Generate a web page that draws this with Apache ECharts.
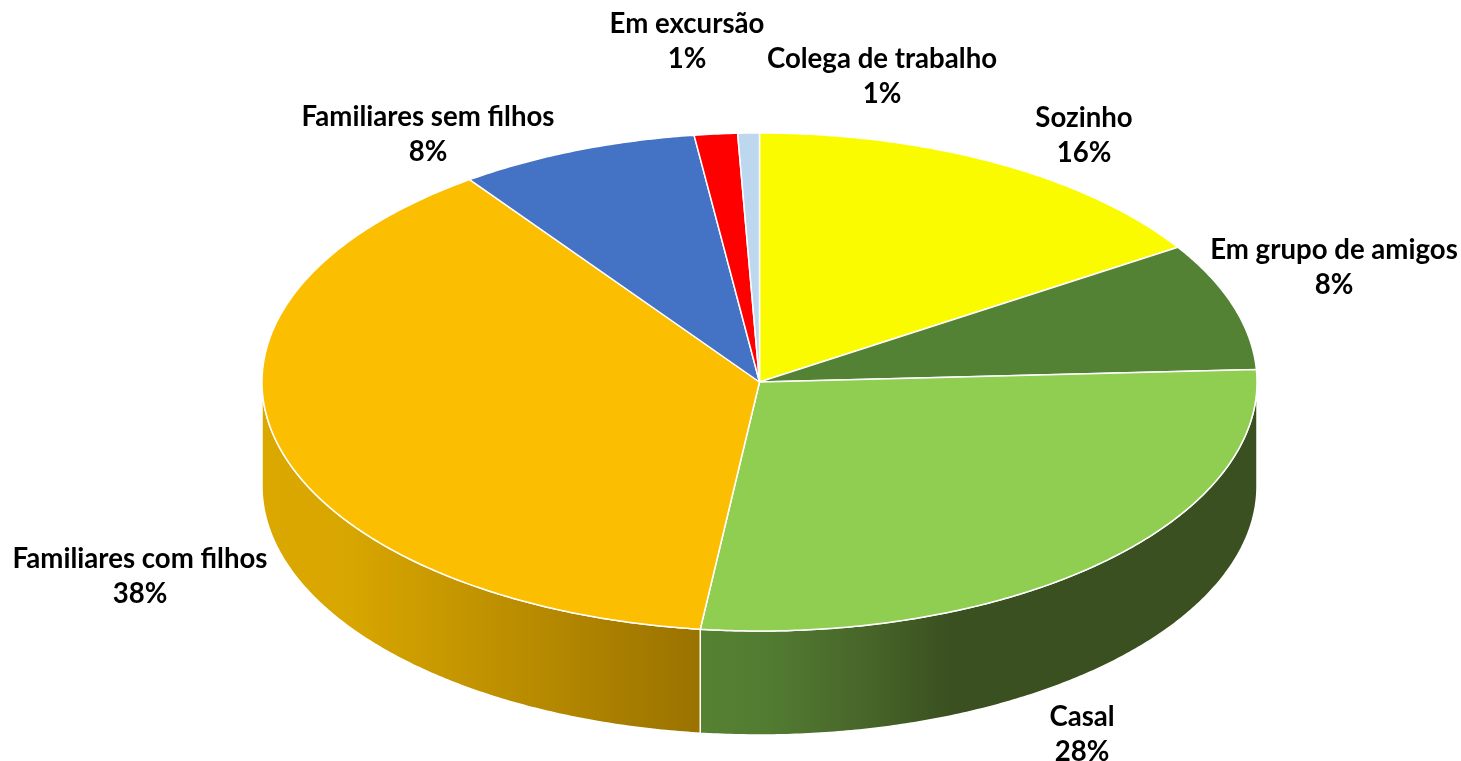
<!DOCTYPE html>
<html>
<head>
<meta charset="utf-8">
<script src="https://cdn.jsdelivr.net/npm/echarts@6/dist/echarts.min.js"></script>
<style>
  html, body { margin: 0; background: #fff; }
  #chart { width: 1461px; height: 761px; }
</style>
</head>
<body>
<div id="chart"></div>
<script>
const categories = ['Sozinho', 'Em grupo de amigos', 'Casal', 'Familiares com filhos', 'Familiares sem filhos', 'Em excursão', 'Colega de trabalho']
const shares = [15.9, 8.3, 27.7, 38.2, 7.8, 1.4, 0.7]

const topColors = ['#FBFB00', '#548235', '#8FCE50', '#FBBE00', '#4472C4', '#FF0000', '#BDD7EE']
const wallStops = {
  2: [[0, '#568232'], [0.12, '#527C32'], [0.3, '#476529'], [0.45, '#3A5020'], [1, '#3A5020']],
  3: [[0, '#DBA800'], [0.2, '#D8A600'], [1, '#9A7200']]
}
const labelCenters = [[1084, 136], [1334, 268], [1082, 735], [140, 577], [428, 135], [687, 42], [882, 77]]

const cx = 759.5
const cy = 382
const rx = 497.5
const ry = 249
const depth = 104
const total = shares.reduce((a, b) => a + b, 0)

function rimPoint(deg, dy) {
  const a = deg * Math.PI / 180
  return [cx + rx * Math.sin(a), cy - ry * Math.cos(a) + dy]
}

function arcPoints(from, to, dy) {
  const pts = []
  const steps = Math.max(2, Math.ceil(Math.abs(to - from) * 2))
  for (let i = 0; i <= steps; i++) {
    pts.push(rimPoint(from + (to - from) * i / steps, dy))
  }
  return pts
}

function renderSlice(params, api) {
  const i = params.dataIndex
  let start = 0
  for (let k = 0; k < i; k++) start += shares[k]
  const from = start / total * 360
  const to = from + api.value(0) / total * 360
  const children = []

  // side wall, only the part of the rim facing the viewer
  const wallFrom = Math.max(from, 90)
  const wallTo = Math.min(to, 270)
  if (wallTo > wallFrom && wallStops[i]) {
    const upper = arcPoints(wallFrom, wallTo, 0)
    const lower = arcPoints(wallTo, wallFrom, depth)
    const xs = upper.map(p => p[0])
    const x0 = Math.min(...xs)
    const x1 = Math.max(...xs)
    children.push({
      type: 'polygon',
      shape: { points: upper.concat(lower) },
      style: {
        fill: new echarts.graphic.LinearGradient(x0, 0, x1, 0,
          wallStops[i].map(s => ({ offset: s[0], color: s[1] })), true),
        stroke: '#fff',
        lineWidth: 1.5
      }
    })
  }

  children.push({
    type: 'polygon',
    shape: { points: [[cx, cy]].concat(arcPoints(from, to, 0)) },
    style: { fill: topColors[i], stroke: '#fff', lineWidth: 1.5, lineJoin: 'round' }
  })

  children.push({
    type: 'text',
    x: labelCenters[i][0],
    y: labelCenters[i][1],
    z2: 10,
    style: {
      text: categories[i] + '\n' + Math.round(api.value(0)) + '%',
      fill: '#000',
      font: 'bold 27.6px Lato',
      lineHeight: 35,
      align: 'center',
      verticalAlign: 'middle'
    }
  })

  return { type: 'group', children }
}

const chart = echarts.init(document.getElementById('chart'))
chart.setOption({
  animation: false,
  backgroundColor: '#fff',
  series: [{
    type: 'custom',
    coordinateSystem: 'none',
    renderItem: renderSlice,
    data: shares
  }]
})
</script>
</body>
</html>
